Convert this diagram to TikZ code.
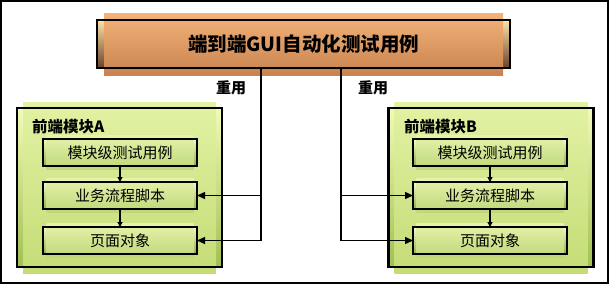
\documentclass[tikz,border=0pt]{standalone}
\usepackage{fontspec}
\setmainfont{Noto Sans CJK SC}
\usetikzlibrary{arrows.meta}
\definecolor{orTop}{HTML}{FCE3A8}
\definecolor{orBot}{HTML}{6A4228}
\definecolor{orInTop}{HTML}{F4B37A}
\definecolor{orInBot}{HTML}{C8834F}
\definecolor{grTop}{HTML}{F2FAB8}
\definecolor{grBot}{HTML}{A0C052}
\definecolor{grInTop}{HTML}{E2F2A4}
\definecolor{grInBot}{HTML}{C4DC76}
\definecolor{bxTop}{HTML}{F6FBCD}
\definecolor{bxBot}{HTML}{90B04A}
\definecolor{bxInTop}{HTML}{E5F3AC}
\definecolor{bxInBot}{HTML}{BED678}
\tikzset{
  topbox/.style={minimum width=413pt, minimum height=48pt, inner sep=0pt, outer sep=0pt},
  modbox/.style={minimum width=205pt, minimum height=159pt, inner sep=0pt, outer sep=0pt},
  subbox/.style={minimum width=154pt, minimum height=27pt, inner sep=0pt, outer sep=0pt,
     font=\fontsize{15}{15}\selectfont},
  conn/.style={line width=1.4pt, -{Triangle[length=8pt,width=7pt]}},
  small/.style={line width=1.2pt, -{Triangle[length=5pt,width=5pt]}},
  lab/.style={font=\fontsize{15}{15}\selectfont\bfseries, inner sep=0pt},
  ttl/.style={font=\fontsize{15.5}{15.5}\selectfont\bfseries, inner sep=0pt, anchor=west},
}
% bevel box drawer: #1 node name, #2 outer top, #3 outer bottom, #4 inner top, #5 inner bottom, #6 inset, #7 border width
\newcommand{\bevelbox}[7]{%
  \shade[top color=#2, bottom color=#3] (#1.south west) rectangle (#1.north east);
  \shade[top color=#4, bottom color=#5] ([shift={(#6,-#6)}]#1.south west) rectangle ([shift={(-#6,#6)}]#1.north east);
  \draw[line width=#7] (#1.south west) rectangle (#1.north east);
}
\begin{document}
\begin{tikzpicture}[x=1pt,y=-1pt]
\useasboundingbox (0,0) rectangle (609,284);
\draw[line width=2pt] (1,1) rectangle (608,283);

% nodes (geometry)
\node[topbox] (top) at (303.5,44) {};
\node[modbox] (ma) at (119.5,187.5) {};
\node[modbox] (mb) at (491,187.5) {};
\node[subbox] (a1) at (120,152.5) {};
\node[subbox] (a2) at (120,195.5) {};
\node[subbox] (a3) at (120,240.5) {};
\node[subbox] (b1) at (490,152.5) {};
\node[subbox] (b2) at (490,195.5) {};
\node[subbox] (b3) at (490,240.5) {};

% fills
\bevelbox{top}{orTop}{orBot}{orInTop}{orInBot}{7pt}{2.6pt}
\bevelbox{ma}{grTop}{grBot}{grInTop}{grInBot}{6pt}{2.4pt}
\bevelbox{mb}{grTop}{grBot}{grInTop}{grInBot}{6pt}{2.4pt}
\foreach \n in {a1,a2,a3,b1,b2,b3}{
  \bevelbox{\n}{bxTop}{bxBot}{bxInTop}{bxInBot}{3.5pt}{1.6pt}
}

% texts
\node[font=\fontsize{19.5}{19.5}\selectfont\bfseries, inner sep=0pt] (toptext) at (top.center) {端到端GUI自动化测试用例};
\node[ttl] (ta) at (32,127) {前端模块A};
\node[ttl] (tb) at (404,127) {前端模块B};
\node[subbox] (a1t) at (a1.center) {模块级测试用例};
\node[subbox] (a2t) at (a2.center) {业务流程脚本};
\node[subbox] (a3t) at (a3.center) {页面对象};
\node[subbox] (b1t) at (b1.center) {模块级测试用例};
\node[subbox] (b2t) at (b2.center) {业务流程脚本};
\node[subbox] (b3t) at (b3.center) {页面对象};
\node[lab] (r1) at (231,88) {重用};
\node[lab] (r2) at (373,88) {重用};

% connectors
\coordinate (L) at (261,0);
\coordinate (R) at (341,0);
\draw[conn] (top.south -| L) |- (a3.east);
\draw[conn] (L |- a2.east) -- (a2.east);
\draw[conn] (top.south -| R) |- (b3.west);
\draw[conn] (R |- b2.west) -- (b2.west);
\draw[small] (a1.south) -- (a2.north);
\draw[small] (a2.south) -- (a3.north);
\draw[small] (b1.south) -- (b2.north);
\draw[small] (b2.south) -- (b3.north);
\end{tikzpicture}
\end{document}
